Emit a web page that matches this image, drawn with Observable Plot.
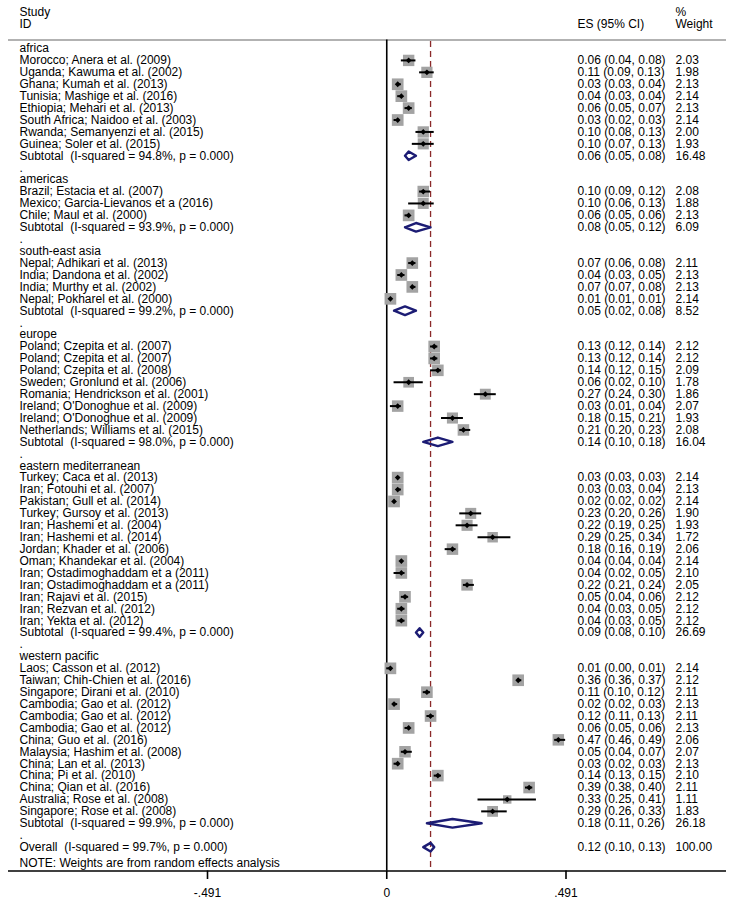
<!DOCTYPE html>
<html>
<head>
<meta charset="utf-8">
<script src="https://cdn.jsdelivr.net/npm/d3@7"></script>
<script src="https://cdn.jsdelivr.net/npm/@observablehq/plot@0.6"></script>
<style>
  html, body { margin: 0; padding: 0; background: #fff; }
  #chart svg { display: block; }
</style>
</head>
<body>
<div id="chart"></div>
<script>
// ---------- DATA ----------
const regions = ["africa", "americas", "south-east asia", "europe", "eastern mediterranean", "western pacific"];

const studyLabels = [
  "Morocco; Anera et al. (2009)", "Uganda; Kawuma et al. (2002)", "Ghana; Kumah et al. (2013)", "Tunisia; Mashige et al. (2016)",
  "Ethiopia; Mehari et al. (2013)", "South Africa; Naidoo et al. (2003)", "Rwanda; Semanyenzi et al. (2015)", "Guinea; Soler et al. (2015)",
  "Brazil; Estacia et al. (2007)", "Mexico; Garcia-Lievanos et a (2016)", "Chile; Maul et al. (2000)",
  "Nepal; Adhikari et al. (2013)", "India; Dandona et al. (2002)", "India; Murthy et al. (2002)", "Nepal; Pokharel et al. (2000)",
  "Poland; Czepita et al. (2007)", "Poland; Czepita et al. (2007)", "Poland; Czepita et al. (2008)", "Sweden; Gronlund et al. (2006)",
  "Romania; Hendrickson et al. (2001)", "Ireland; O'Donoghue et al. (2009)", "Ireland; O'Donoghue et al. (2009)", "Netherlands; Williams et al. (2015)",
  "Turkey; Caca et al. (2013)", "Iran; Fotouhi et al. (2007)", "Pakistan; Gull et al. (2014)", "Turkey; Gursoy et al. (2013)",
  "Iran; Hashemi et al. (2004)", "Iran; Hashemi et al. (2014)", "Jordan; Khader et al. (2006)", "Oman; Khandekar et al. (2004)",
  "Iran; Ostadimoghaddam et a (2011)", "Iran; Ostadimoghaddam et a (2011)", "Iran; Rajavi et al. (2015)", "Iran; Rezvan et al. (2012)",
  "Iran; Yekta et al. (2012)",
  "Laos; Casson et al. (2012)", "Taiwan; Chih-Chien et al. (2016)", "Singapore; Dirani et al. (2010)", "Cambodia; Gao et al. (2012)",
  "Cambodia; Gao et al. (2012)", "Cambodia; Gao et al. (2012)", "China; Guo et al. (2016)", "Malaysia; Hashim et al. (2008)",
  "China; Lan et al. (2013)", "China; Pi et al. (2010)", "China; Qian et al. (2016)", "Australia; Rose et al. (2008)",
  "Singapore; Rose et al. (2008)"
];
const studyRegion = [
  0,0,0,0,0,0,0,0,
  1,1,1,
  2,2,2,2,
  3,3,3,3,3,3,3,3,
  4,4,4,4,4,4,4,4,4,4,4,4,4,
  5,5,5,5,5,5,5,5,5,5,5,5,5
];
const studyES = [
  0.06,0.11,0.03,0.04,0.06,0.03,0.10,0.10,
  0.10,0.10,0.06,
  0.07,0.04,0.07,0.01,
  0.13,0.13,0.14,0.06,0.27,0.03,0.18,0.21,
  0.03,0.03,0.02,0.23,0.22,0.29,0.18,0.04,0.04,0.22,0.05,0.04,0.04,
  0.01,0.36,0.11,0.02,0.12,0.06,0.47,0.05,0.03,0.14,0.39,0.33,0.29
];
const studyLo = [
  0.04,0.09,0.03,0.03,0.05,0.02,0.08,0.07,
  0.09,0.06,0.05,
  0.06,0.03,0.07,0.01,
  0.12,0.12,0.12,0.02,0.24,0.01,0.15,0.20,
  0.03,0.03,0.02,0.20,0.19,0.25,0.16,0.04,0.02,0.21,0.04,0.03,0.03,
  0.00,0.36,0.10,0.02,0.11,0.05,0.46,0.04,0.02,0.13,0.38,0.25,0.26
];
const studyHi = [
  0.08,0.13,0.04,0.04,0.07,0.03,0.13,0.13,
  0.12,0.13,0.06,
  0.08,0.05,0.08,0.01,
  0.14,0.14,0.15,0.10,0.30,0.04,0.21,0.23,
  0.03,0.04,0.02,0.26,0.25,0.34,0.19,0.04,0.05,0.24,0.06,0.05,0.05,
  0.01,0.37,0.12,0.03,0.13,0.06,0.49,0.07,0.03,0.15,0.40,0.41,0.33
];
const studyWeight = [
  2.03,1.98,2.13,2.14,2.13,2.14,2.00,1.93,
  2.08,1.88,2.13,
  2.11,2.13,2.13,2.14,
  2.12,2.12,2.09,1.78,1.86,2.07,1.93,2.08,
  2.14,2.13,2.14,1.90,1.93,1.72,2.06,2.14,2.10,2.05,2.12,2.12,2.12,
  2.14,2.12,2.11,2.13,2.11,2.13,2.06,2.07,2.13,2.10,2.11,1.11,1.83
];

const subLabels = [
  "Subtotal  (I-squared = 94.8%, p = 0.000)",
  "Subtotal  (I-squared = 93.9%, p = 0.000)",
  "Subtotal  (I-squared = 99.2%, p = 0.000)",
  "Subtotal  (I-squared = 98.0%, p = 0.000)",
  "Subtotal  (I-squared = 99.4%, p = 0.000)",
  "Subtotal  (I-squared = 99.9%, p = 0.000)"
];
const subES = [0.06, 0.08, 0.05, 0.14, 0.09, 0.18];
const subLo = [0.05, 0.05, 0.02, 0.10, 0.08, 0.11];
const subHi = [0.08, 0.12, 0.08, 0.18, 0.10, 0.26];
const subWeight = [16.48, 6.09, 8.52, 16.04, 26.69, 26.18];

const overallLabel = "Overall  (I-squared = 99.7%, p = 0.000)";
const overallES = 0.12, overallLo = 0.10, overallHi = 0.13, overallWeight = 100.00;
const noteText = "NOTE: Weights are from random effects analysis";

const xTicks = [-0.491, 0, 0.491];
const xTickLabels = ["-.491", "0", ".491"];

// ---------- BUILD ROWS ----------
const fmt = d3.format(".2f");
const esText = (e, l, h) => `${fmt(e)} (${fmt(l)}, ${fmt(h)})`;

const rows = [];
const studies = [];
const diamonds = [];
let r = 0;
regions.forEach((reg, gi) => {
  rows.push({row: r++, label: reg});
  studyLabels.forEach((lab, i) => {
    if (studyRegion[i] !== gi) return;
    const d = {row: r++, label: lab, es: studyES[i], lo: studyLo[i], hi: studyHi[i], w: studyWeight[i]};
    d.esText = esText(d.es, d.lo, d.hi);
    d.wText = fmt(d.w);
    rows.push(d); studies.push(d);
  });
  const s = {row: r++, label: subLabels[gi], es: subES[gi], lo: subLo[gi], hi: subHi[gi], w: subWeight[gi]};
  s.esText = esText(s.es, s.lo, s.hi); s.wText = fmt(s.w);
  rows.push(s); diamonds.push(s);
  rows.push({row: r++, label: "."});
});
const ov = {row: r++, label: overallLabel, es: overallES, lo: overallLo, hi: overallHi, w: overallWeight};
ov.esText = esText(ov.es, ov.lo, ov.hi); ov.wText = fmt(ov.w);
rows.push(ov); diamonds.push(ov);

// diamond polygons
const half = 0.36;
const diamondPts = diamonds.flatMap((d, k) => [
  {k, x: d.lo, y: d.row},
  {k, x: d.es, y: d.row - half},
  {k, x: d.hi, y: d.row},
  {k, x: d.es, y: d.row + half},
  {k, x: d.lo, y: d.row}
]);

// ---------- LAYOUT (pixel -> scale helpers) ----------
const X0 = 207, X1 = 565.5;
const Y0 = 48, ROW = 11.92;
const px = (p) => -0.491 + (p - X0) / (X1 - X0) * 0.982;
const py = (p) => (p - Y0) / ROW;

const xLabel = px(19), xES = px(577), xW = px(675);
const yHeaderLine = py(39.5), yAxis = py(870.5), yTickEnd = py(879), yTickLab = py(893);
const noteY = py(863);

const headerText = [
  {x: xLabel, y: py(12), t: "Study"},
  {x: xLabel, y: py(24), t: "ID"},
  {x: xES, y: py(24), t: "ES (95% CI)"},
  {x: xW, y: py(12), t: "%"},
  {x: xW, y: py(24), t: "Weight"}
];
const ticks = xTicks.map((v, i) => ({v, lab: xTickLabels[i]}));

const chart = Plot.plot({
  width: 729,
  height: 901,
  margin: 0,
  style: {fontFamily: "'Liberation Sans', Arial, sans-serif", fontSize: "12px", color: "#000", background: "#fff"},
  x: {domain: [-0.491, 0.491], range: [X0, X1], axis: null},
  y: {domain: [0, 68], range: [Y0, Y0 + 68 * ROW], axis: null},
  r: {type: "sqrt", domain: [0, 2.14], range: [0, 6.6]},
  marks: [
    Plot.ruleY([yHeaderLine], {x1: px(8), x2: px(726), stroke: "#999", strokeWidth: 1.3}),
    Plot.ruleX([overallES], {y1: py(41), y2: yAxis, stroke: "#8b2a2a", strokeWidth: 1.3, strokeDasharray: "6,4"}),
    Plot.ruleX([0], {y1: yHeaderLine, y2: yAxis, stroke: "#000", strokeWidth: 1.6}),
    Plot.ruleY([yAxis], {x1: px(8), x2: px(726), stroke: "#000", strokeWidth: 1.6}),
    Plot.ruleX(ticks, {x: "v", y1: yAxis, y2: yTickEnd, stroke: "#000", strokeWidth: 1.6}),
    Plot.text(ticks, {x: "v", y: yTickLab, text: "lab", fill: "#000"}),
    Plot.dot(studies, {x: "es", y: "row", r: "w", symbol: "square", fill: "#a3a3a3", stroke: "none"}),
    Plot.ruleY(studies, {y: "row", x1: "lo", x2: "hi", stroke: "#000", strokeWidth: 2}),
    Plot.dot(studies, {x: "es", y: "row", r: 2.6, fill: "#000", stroke: "none", symbol: "diamond2"}),
    Plot.line(diamondPts, {x: "x", y: "y", z: "k", stroke: "#1c1c74", strokeWidth: 2.4, curve: "linear"}),
    Plot.text(rows, {x: xLabel, y: "row", text: "label", textAnchor: "start", fill: "#000"}),
    Plot.text([noteText], {x: xLabel, y: noteY, text: d => d, textAnchor: "start", fill: "#000"}),
    Plot.text(rows.filter(d => d.esText), {x: xES, y: "row", text: "esText", textAnchor: "start", fill: "#000"}),
    Plot.text(rows.filter(d => d.wText), {x: xW, y: "row", text: "wText", textAnchor: "start", fill: "#000"}),
    Plot.text(headerText, {x: "x", y: "y", text: "t", textAnchor: "start", fill: "#000"})
  ]
});
document.getElementById("chart").append(chart);
</script>
</body>
</html>
